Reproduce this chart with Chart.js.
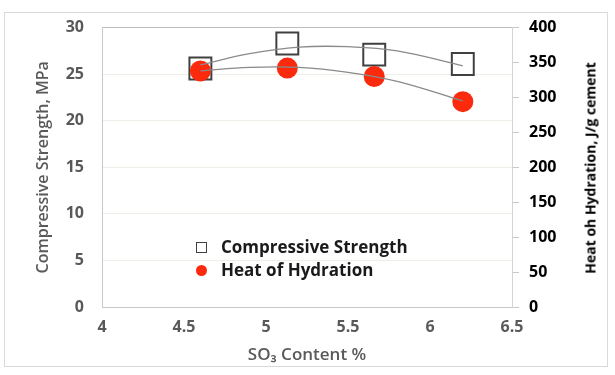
<!DOCTYPE html>
<html>
<head>
<meta charset="utf-8">
<script src="https://cdn.jsdelivr.net/npm/chart.js@4.4.0/dist/chart.umd.min.js"></script>
<style>
  body { margin: 0; background: #fff; }
  #wrap { position: relative; width: 615px; height: 375px; font-family: 'Open Sans', sans-serif; }
  #frame { position: absolute; left: 4px; top: 12px; width: 602px; height: 353px; border: 1px solid #d9d9d9; }
  #chart { position: absolute; left: 0; top: 0; }
  .leg { position: absolute; left: 196px; font-weight: 700; font-size: 17px; color: #1a1a1a; line-height: 22px; }
  .leg span.mk { position: absolute; left: 0; }
  .leg span.tx { position: absolute; left: 25px; white-space: nowrap; }
  #rtitle { position: absolute; left: 590px; top: 168px; transform: translate(-50%, -50%) rotate(-90deg);
            white-space: nowrap; font-weight: 700; font-size: 14px; color: #000; }
</style>
</head>
<body>
<div id="wrap">
  <div id="frame"></div>
  <canvas id="chart" width="615" height="375"></canvas>
  <div class="leg" style="top:236px"><span class="mk" style="top:6px;width:9px;height:9px;border:1.5px solid #404040"></span><span class="tx" id="leg0"></span></div>
  <div class="leg" style="top:259px"><span class="mk" style="top:6px;width:11px;height:11px;border-radius:50%;background:#fb2a0d"></span><span class="tx" id="leg1"></span></div>
  <div id="rtitle"></div>
</div>
<script>
// SO3 content (x) and the two measured series
const so3 = [4.6, 5.13, 5.66, 6.2];
const strength = [25.6, 28.3, 27.1, 26.1];
const heat = [338, 342, 330, 294];

// trendlines
const trendX = [4.6, 4.9, 5.2, 5.5, 5.8, 6.2];
const strengthTrend = [26.0, 27.2, 27.9, 27.95, 27.5, 25.9];
const heatTrend = [338, 343, 343, 336, 323, 295];

const seriesNames = ['Compressive Strength', 'Heat of Hydration'];
const xTitle = 'SO\u2083 Content %';
const leftTitle = 'Compressive Strength, MPa';
const rightTitle = 'Heat oh Hydration, J/g cement';

document.getElementById('leg0').textContent = seriesNames[0];
document.getElementById('leg1').textContent = seriesNames[1];
document.getElementById('rtitle').textContent = rightTitle;

const pts = (xs, ys) => xs.map((x, i) => ({ x: x, y: ys[i] }));
const gray = '#595959';
const tickFont = { family: 'Open Sans', size: 16, weight: '700' };

new Chart(document.getElementById('chart'), {
  type: 'scatter',
  data: {
    datasets: [
      {
        label: 'strength trend',
        data: pts(trendX, strengthTrend),
        yAxisID: 'y',
        showLine: true,
        tension: 0.4,
        borderColor: '#8a8a8a',
        borderWidth: 1.3,
        pointRadius: 0,
      },
      {
        label: 'heat trend',
        data: pts(trendX, heatTrend),
        yAxisID: 'y1',
        showLine: true,
        tension: 0.4,
        borderColor: '#8a8a8a',
        borderWidth: 1.3,
        pointRadius: 0,
      },
      {
        label: seriesNames[1],
        data: pts(so3, heat),
        yAxisID: 'y1',
        pointStyle: 'circle',
        pointRadius: 10.5,
        backgroundColor: '#fb2a0d',
        borderColor: '#fb2a0d',
        borderWidth: 0,
      },
      {
        label: seriesNames[0],
        data: pts(so3, strength),
        yAxisID: 'y',
        pointStyle: 'rect',
        pointRadius: 15.5,
        backgroundColor: 'rgba(255,255,255,0)',
        borderColor: '#404040',
        borderWidth: 2,
      },
    ],
  },
  options: {
    responsive: false,
    animation: false,
    layout: { padding: { left: 30, top: 27, right: 0, bottom: 8 } },
    plugins: {
      legend: { display: false },
      tooltip: { enabled: false },
    },
    scales: {
      x: {
        type: 'linear',
        min: 4,
        max: 6.5,
        ticks: { stepSize: 0.5, color: gray, font: tickFont, padding: 11, callback: (v) => String(v) },
        grid: { drawOnChartArea: false, drawTicks: false },
        border: { color: '#c8c8c8' },
        title: { display: true, text: xTitle, color: gray, font: { family: 'Open Sans', size: 17, weight: '600' }, padding: 2 },
        afterFit: (s) => { s.height = 60; },
      },
      y: {
        position: 'left',
        min: 0,
        max: 30,
        ticks: { stepSize: 5, color: gray, font: tickFont, padding: 18 },
        grid: {
          drawTicks: false,
          color: (c) => (c.tick.value === 30 ? '#bcbcbc' : '#efefe8'),
        },
        border: { color: '#c8c8c8' },
        title: { display: true, text: leftTitle, color: gray, font: { family: 'Open Sans', size: 16, weight: '600' }, padding: 4 },
        afterFit: (s) => { s.width = 72; },
      },
      y1: {
        position: 'right',
        min: 0,
        max: 400,
        ticks: { stepSize: 50, color: '#000', font: { family: 'Open Sans', size: 16, weight: '700' }, padding: 10 },
        grid: { drawOnChartArea: false, drawTicks: true, tickLength: 7, tickColor: '#c8c8c8' },
        border: { color: '#d4d4d4' },
        afterFit: (s) => { s.width = 103; },
      },
    },
  },
});
</script>
</body>
</html>
